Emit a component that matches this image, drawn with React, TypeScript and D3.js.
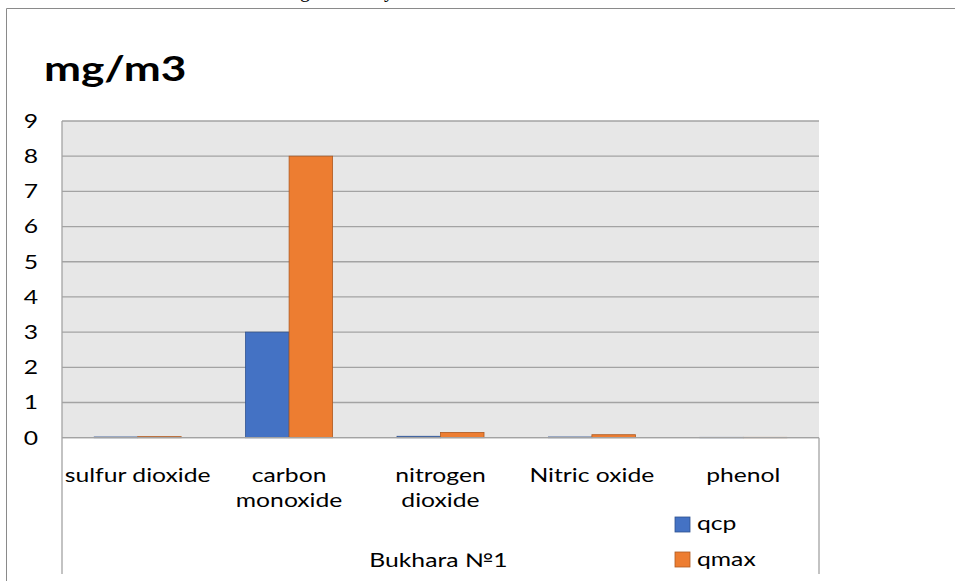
import React, { useRef, useEffect } from 'react';
import * as d3 from 'd3';

const categories = ['sulfur dioxide', 'carbon monoxide', 'nitrogen dioxide', 'Nitric oxide', 'phenol'];
const categoryLines = [['sulfur dioxide'], ['carbon', 'monoxide'], ['nitrogen', 'dioxide'], ['Nitric oxide'], ['phenol']];
const seriesNames = ['qcp', 'qmax'];
const qcp = [0.02, 3, 0.04, 0.02, 0.01];
const qmax = [0.03, 8, 0.15, 0.085, 0.01];
const yTicks = [0, 1, 2, 3, 4, 5, 6, 7, 8, 9];
const groupLabel = 'Bukhara №1';
const title = 'mg/m3';

const colors = ['#4472c4', '#ed7d31'];
const strokes = ['#2f528f', '#ae5a21'];
const font = 'Lato, "Open Sans", sans-serif';
const SX = 1.3; // the source picture is stretched sideways

export default function App() {
  const ref = useRef<SVGSVGElement>(null);
  const W = 955, H = 581;
  const plot = { left: 62, right: 819, top: 121, bottom: 437.7 }; // area of the plot

  useEffect(() => {
    const svg = d3.select(ref.current);
    svg.selectAll('*').remove();

    const x = d3.scaleBand<string>().domain(categories).range([plot.left, plot.right]).padding(0);
    const inner = d3.scaleBand<string>().domain(seriesNames).range([0, x.bandwidth()]).paddingInner(0).paddingOuter(0.74);
    const y = d3.scaleLinear().domain([0, 9]).range([plot.bottom, plot.top]);

    // stretched text, anchored at (tx, ty)
    const label = (g: any, tx: number, ty: number, size: number, anchor = 'middle') =>
      g.append('text')
        .attr('transform', `translate(${tx},${ty}) scale(${SX},1)`)
        .attr('text-anchor', anchor)
        .attr('font-family', font).attr('font-size', size)
        .attr('fill', '#000');

    // cut-off text of the page above
    svg.append('text').attr('x', 300).attr('y', -3).attr('font-family', 'Liberation Serif, serif').attr('font-size', 20).text('g');
    svg.append('text').attr('x', 384).attr('y', -3).attr('font-family', 'Liberation Serif, serif').attr('font-size', 20).text('y');

    // outer frame (top + left)
    svg.append('line').attr('x1', 6.5).attr('x2', W).attr('y1', 8.5).attr('y2', 8.5).attr('stroke', '#8a8a8a').attr('stroke-width', 1);
    svg.append('line').attr('x1', 6.5).attr('x2', 6.5).attr('y1', 8.5).attr('y2', H).attr('stroke', '#8a8a8a').attr('stroke-width', 1);

    label(svg, 44, 81, 34, 'start').attr('font-weight', 'bold').text(title);

    svg.append('rect')
      .attr('x', plot.left).attr('y', plot.top)
      .attr('width', plot.right - plot.left).attr('height', plot.bottom - plot.top)
      .attr('fill', '#e7e7e7');

    svg.append('g').selectAll('line').data(yTicks).join('line')
      .attr('x1', plot.left).attr('x2', plot.right)
      .attr('y1', d => y(d)).attr('y2', d => y(d))
      .attr('stroke', '#a3a3a3').attr('stroke-width', 1.3);

    const yg = svg.append('g');
    yTicks.forEach(t => label(yg, 31, y(t), 19).attr('dy', '0.36em').text(t));

    const seriesData = [qcp, qmax];
    seriesNames.forEach((s, si) => {
      svg.append('g').selectAll('rect').data(categories).join('rect')
        .attr('x', c => (x(c) as number) + (inner(s) as number))
        .attr('y', (c, i) => y(seriesData[si][i]))
        .attr('width', inner.bandwidth())
        .attr('height', (c, i) => plot.bottom - y(seriesData[si][i]))
        .attr('fill', colors[si])
        .attr('stroke', strokes[si]).attr('stroke-width', 0.8);
    });

    // table-like vertical lines
    svg.append('line').attr('x1', plot.left).attr('x2', plot.left).attr('y1', plot.top).attr('y2', 574)
      .attr('stroke', '#a3a3a3').attr('stroke-width', 1.3);
    svg.append('line').attr('x1', plot.right).attr('x2', plot.right).attr('y1', plot.bottom).attr('y2', 574)
      .attr('stroke', '#a3a3a3').attr('stroke-width', 1.3);
    svg.append('line').attr('x1', plot.left).attr('x2', plot.right).attr('y1', plot.bottom).attr('y2', plot.bottom)
      .attr('stroke', '#a3a3a3').attr('stroke-width', 1.3);

    const xg = svg.append('g');
    categories.forEach((c, i) => {
      const t = label(xg, (x(c) as number) + x.bandwidth() / 2, 482, 19);
      categoryLines[i].forEach((line, j) => {
        t.append('tspan').attr('x', 0).attr('dy', j === 0 ? 0 : 25).text(line);
      });
    });

    label(svg, (plot.left + plot.right) / 2 - 2, 567, 19).text(groupLabel);

    seriesNames.forEach((s, i) => {
      svg.append('rect')
        .attr('x', 675).attr('y', 517 + i * 35).attr('width', 15).attr('height', 15)
        .attr('fill', colors[i]).attr('stroke', strokes[i]).attr('stroke-width', 0.8);
      label(svg, 697, 530 + i * 36, 19, 'start').text(s);
    });
  }, []);

  return (
    <div style={{ position: 'absolute', left: 0, top: 0 }}>
      <svg ref={ref} width={W} height={H} style={{ display: 'block', overflow: 'hidden' }}></svg>
    </div>
  );
}
